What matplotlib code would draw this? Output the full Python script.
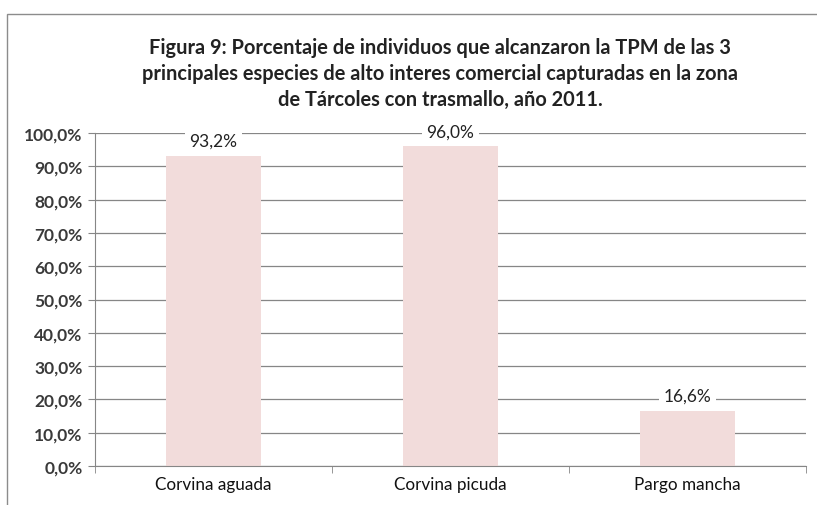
import matplotlib
matplotlib.use("Agg")
import matplotlib.pyplot as plt
from matplotlib.patches import Rectangle

categories = ["Corvina aguada", "Corvina picuda", "Pargo mancha"]
values = [93.2, 96.0, 16.6]
yticks = [0, 10, 20, 30, 40, 50, 60, 70, 80, 90, 100]

TITLE = ("Figura 9: Porcentaje de individuos que alcanzaron la TPM de las 3\n"
         "principales especies de alto interes comercial capturadas en la zona\n"
         "de Tárcoles con trasmallo, año 2011.")

plt.rcParams["font.family"] = ["Lato", "DejaVu Sans"]

fig = plt.figure(figsize=(8.17, 5.06), dpi=100)
ax = fig.add_axes([95 / 817, 1 - 467 / 506, (806 - 95) / 817, (467 - 134) / 506])

# outer chart border
fig.patches.append(Rectangle((7 / 817, -0.01), 1.0, 1 - 15 / 506 + 0.01,
                             transform=fig.transFigure, fill=False,
                             edgecolor="#8c8c8c", linewidth=1.0))

x = range(len(categories))
ax.bar(x, values, width=0.4, color="#f2dcdb", zorder=2)
ax.set_xlim(-0.5, len(categories) - 0.5)
ax.set_ylim(0, 100)

ax.set_yticks(yticks)
ax.set_yticklabels([f"{v:.1f}%".replace(".", ",") for v in yticks],
                   fontsize=12.5, fontweight="bold", color="#3a3a3a")
ax.yaxis.grid(True, color="#868686", linewidth=0.9, zorder=0)
ax.set_axisbelow(True)

ax.set_xticks(list(x))
ax.set_xticklabels(categories, fontsize=12.3, color="#111111")
ax.set_xticks([i + 0.5 for i in range(-1, len(categories))], minor=True)
ax.tick_params(axis="x", which="major", length=0, pad=7)
ax.tick_params(axis="x", which="minor", length=5, color="#868686", direction="out")
ax.tick_params(axis="y", length=5, color="#868686", direction="out", pad=4)

for s in ["top", "right"]:
    ax.spines[s].set_visible(False)
ax.spines["left"].set_color("#868686")
ax.spines["bottom"].set_color("#868686")

for i, v in enumerate(values):
    ax.text(i, v + 2.0, f"{v:.1f}%".replace(".", ","), ha="center", va="bottom",
            fontsize=12.5, color="#222222", zorder=3,
            bbox=dict(boxstyle="square,pad=0.25", facecolor="white", edgecolor="none"))

fig.text(440 / 817, 1 - 74 / 506, TITLE, ha="center", va="center",
         fontsize=14.4, fontweight="bold", color="#222222", linespacing=1.4)

fig.savefig("out.png", dpi=100)
plt.close(fig)
